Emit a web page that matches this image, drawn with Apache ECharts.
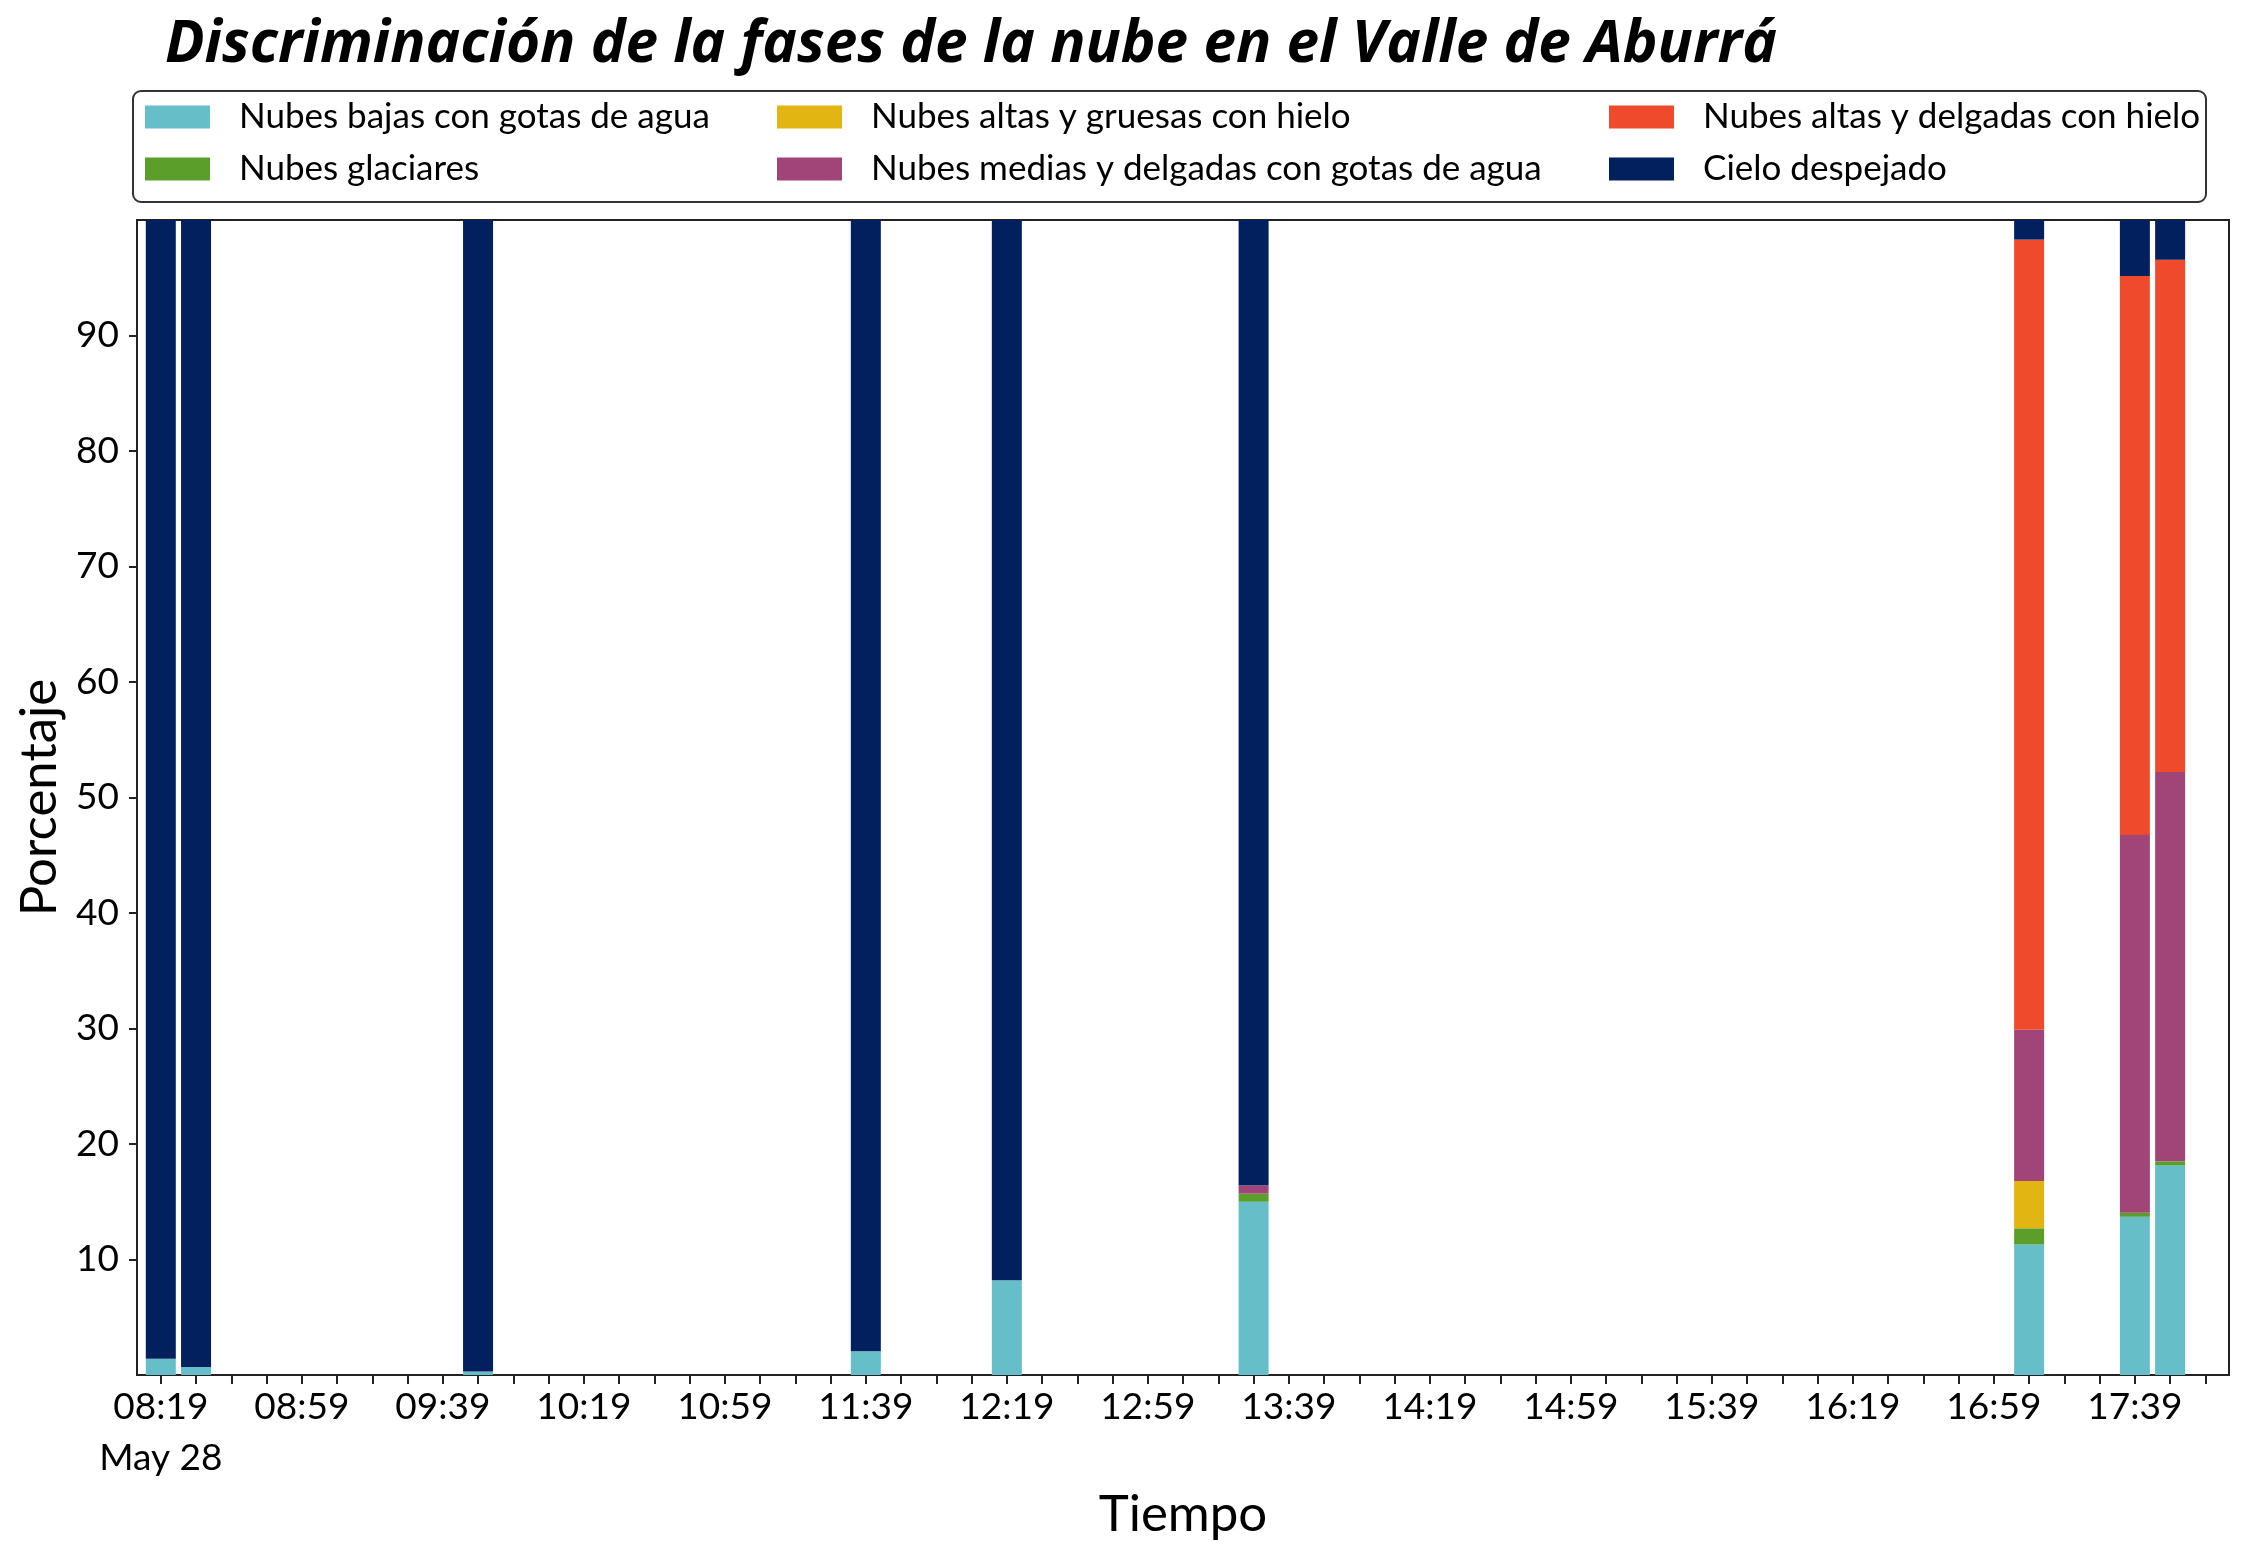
<!DOCTYPE html>
<html>
<head>
<meta charset="utf-8">
<script src="https://cdn.jsdelivr.net/npm/echarts@6/dist/echarts.min.js"></script>
<style>
html,body{margin:0;padding:0;background:#fff;}
#chart{width:2244px;height:1559px;}
</style>
</head>
<body>
<div id="chart"></div>
<script>
// ---- data ----
const dayLabel = 'May 28';
const times = ['08:19','08:29','09:49','11:39','12:19','13:29','17:09','17:39','17:49'];
const bajasAgua      = [1.4, 0.7, 0.3, 2.05, 8.2, 15.0, 11.3, 13.7, 18.15];
const glaciares      = [0, 0, 0, 0, 0, 0.7, 1.4, 0.35, 0.35];
const altasGruesas   = [0, 0, 0, 0, 0, 0, 4.1, 0, 0];
const mediasDelgadas = [0, 0, 0, 0, 0, 0.7, 13.1, 32.7, 33.7];
const altasDelgadas  = [0, 0, 0, 0, 0, 0, 68.4, 48.4, 44.35];
const despejado      = [98.6, 99.3, 99.7, 97.95, 91.8, 83.6, 1.7, 4.85, 3.45];

const seriesNames = [
  'Nubes bajas con gotas de agua',
  'Nubes glaciares',
  'Nubes altas y gruesas con hielo',
  'Nubes medias y delgadas con gotas de agua',
  'Nubes altas y delgadas con hielo',
  'Cielo despejado'
];
const seriesColors = ['#66bec9','#5b9e2a','#e2b513','#a14477','#ee4a2b','#02205e'];

const xTickLabels = ['08:19','08:59','09:39','10:19','10:59','11:39','12:19','12:59','13:39','14:19','14:59','15:39','16:19','16:59','17:39'];
const yTickLabels = [10,20,30,40,50,60,70,80,90];

// ---- helpers ----
const MIN_MS = 60000;
function toTs(t){ const p = t.split(':'); return new Date(2000, 4, 28, +p[0], +p[1], 0, 0).getTime(); }
function toHHMM(v){ const d = new Date(Math.round(v / MIN_MS) * MIN_MS);
  return String(d.getHours()).padStart(2,'0') + ':' + String(d.getMinutes()).padStart(2,'0'); }

const GRID_W = 2092, BAR_W = 30;
const firstTick = toTs(xTickLabels[0]);
const xMin = firstTick - 6.75 * MIN_MS;
const xMax = firstTick + 586.7 * MIN_MS;
// ECharts widens a time axis carrying bars by the bar width; pre-shrink so the
// effective extent equals [xMin, xMax] and bars line up with the tick axis.
const span = xMax - xMin;
const pad = span * (BAR_W / GRID_W) / 2;
const tMin = xMin + pad, tMax = xMax - pad;

const labelVals = xTickLabels.map(toTs);
const minorTicks = [];
for (let v = firstTick; v <= xMax; v += 10 * MIN_MS) minorTicks.push(v);

const allSeries = [bajasAgua, glaciares, altasGruesas, mediasDelgadas, altasDelgadas, despejado];
const FONT = 'Lato';

const chart = echarts.init(document.getElementById('chart'), null, {renderer:'canvas'});

function mkLegend(names, left){
  return {
    orient:'vertical', left:left, top:99, padding:0,
    itemWidth:65, itemHeight:23, itemGap:16, icon:'rect',
    data:names,
    textStyle:{fontFamily:FONT, fontSize:35, color:'#000', lineHeight:36, padding:[0,0,0,24]}
  };
}

const option = {
  backgroundColor:'#fff',
  animation:false,
  title:{
    text:'Discriminación de la fases de la nube en el Valle de Aburrá',
    left:165, top:16, padding:0,
    textStyle:{fontFamily:'Open Sans', fontSize:58.5, fontWeight:'bold', fontStyle:'italic', color:'#000'}
  },
  legend:[
    mkLegend(seriesNames.slice(0,2), 145),
    mkLegend(seriesNames.slice(2,4), 777),
    mkLegend(seriesNames.slice(4,6), 1609)
  ],
  graphic:[{
    type:'rect', shape:{x:133, y:91, width:2073, height:111, r:8},
    style:{fill:'none', stroke:'#333', lineWidth:2}, silent:true, z:100
  }],
  grid:{left:137, top:220, width:GRID_W, height:1155, show:true, borderColor:'#222', borderWidth:2, backgroundColor:'#fff'},
  xAxis:[{
    type:'time', min:tMin, max:tMax, show:false
  },{
    type:'value', min:xMin, max:xMax, position:'bottom',
    name:'Tiempo', nameLocation:'middle', nameGap:104,
    nameTextStyle:{fontFamily:FONT, fontSize:51, color:'#000'},
    axisLine:{show:true, onZero:false, lineStyle:{color:'#222', width:2}},
    axisTick:{show:true, length:9, lineStyle:{color:'#222', width:2}, customValues:minorTicks},
    splitLine:{show:false},
    axisLabel:{
      customValues:labelVals,
      fontFamily:FONT, fontSize:37, color:'#000', margin:7, lineHeight:51,
      formatter:function(v){ const s = toHHMM(v); return (Math.abs(v - firstTick) < 1000) ? s + '\n' + dayLabel : s; }
    }
  }],
  yAxis:{
    type:'value', min:0, max:100,
    name:'Porcentaje', nameLocation:'middle', nameGap:70, nameRotate:90,
    nameTextStyle:{fontFamily:FONT, fontSize:51, color:'#000'},
    axisLine:{show:true, lineStyle:{color:'#222', width:2}},
    axisTick:{show:true, length:8, lineStyle:{color:'#222', width:2}, customValues:yTickLabels},
    splitLine:{show:false},
    axisLabel:{customValues:yTickLabels, fontFamily:FONT, fontSize:37, color:'#000', margin:18}
  },
  series: allSeries.map(function(vals, k){
    return {
      name:seriesNames[k], type:'bar', stack:'total', barWidth:BAR_W, xAxisIndex:0,
      itemStyle:{color:seriesColors[k]},
      data: times.map(function(t,i){ return [toTs(t), vals[i]]; })
    };
  })
};
chart.setOption(option);
</script>
</body>
</html>
